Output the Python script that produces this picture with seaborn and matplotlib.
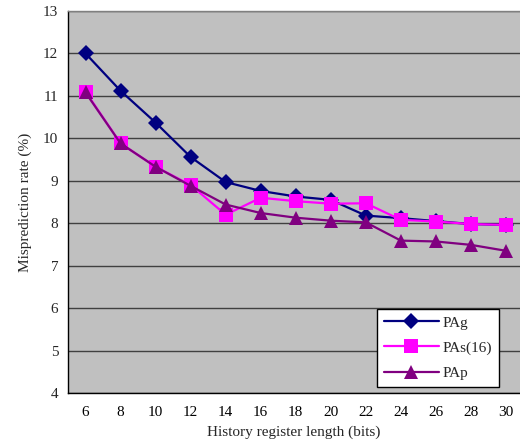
import matplotlib
matplotlib.use("Agg")
import matplotlib.pyplot as plt
import seaborn as sns
import pandas as pd
import numpy as np

history_bits = [6, 8, 10, 12, 14, 16, 18, 20, 22, 24, 26, 28, 30]
pag = [12.0, 11.12, 10.37, 9.56, 8.97, 8.76, 8.63, 8.55, 8.18, 8.12, 8.05, 7.98, 7.96]
pas16 = [11.1, 9.88, 9.33, 8.9, 8.2, 8.6, 8.52, 8.46, 8.47, 8.08, 8.04, 7.98, 7.96]
pap = [11.08, 9.88, 9.33, 8.88, 8.44, 8.24, 8.13, 8.06, 8.02, 7.59, 7.57, 7.49, 7.35]
series_names = ["PAg", "PAs(16)", "PAp"]

rows = []
for name, vals in zip(series_names, [pag, pas16, pap]):
    for i, v in enumerate(vals):
        rows.append({"pos": i, "bits": history_bits[i], "rate": v, "series": name})
df = pd.DataFrame(rows)

sns.set_theme(style="white")
plt.rcParams["font.family"] = ["Liberation Serif", "DejaVu Serif"]

FS = 11

fig = plt.figure(figsize=(5.2, 4.42), dpi=100)
ax = fig.add_axes([68/520, 1 - 393/442, 1 - 68/520, (393 - 11)/442])
ax.set_facecolor("#C0C0C0")

palette = {"PAg": "#000080", "PAs(16)": "#FF00FF", "PAp": "#800080"}
markers = {"PAg": "D", "PAs(16)": "s", "PAp": "^"}
sizes = {"PAg": 8, "PAs(16)": 10, "PAp": 10}

for name in series_names:
    sub = df[df["series"] == name]
    sns.lineplot(data=sub, x="pos", y="rate", ax=ax, color=palette[name],
                 marker=markers[name], markersize=sizes[name], markeredgewidth=0,
                 linewidth=1.6, label=name, zorder=3)

ax.set_ylim(4, 13)
ax.set_xlim(-0.5, 12.4)
ax.set_yticks(range(4, 14))
ax.yaxis.grid(True, color="#404040", linewidth=1.0)
ax.xaxis.grid(False)
ax.set_axisbelow(True)

ax.set_xticks(range(len(history_bits)))
ax.set_xticklabels([str(b) for b in history_bits])
ax.set_xticks(np.arange(0.5, len(history_bits) - 0.5, 1), minor=True)
ax.tick_params(axis="x", which="major", length=0, labelsize=FS, pad=9, colors="black")
ax.tick_params(axis="x", which="minor", length=4, width=1, direction="out", color="black")
ax.tick_params(axis="y", which="major", length=4, width=1, direction="out", labelsize=FS, color="black", pad=3)

for s in ["left", "bottom"]:
    ax.spines[s].set_color("black")
    ax.spines[s].set_linewidth(1.0)
ax.spines["top"].set_color("#808080")
ax.spines["top"].set_linewidth(1.0)
ax.spines["right"].set_visible(False)

ax.set_xlabel("History register length (bits)", fontsize=FS, labelpad=5)
ax.set_ylabel("Misprediction rate (%)", fontsize=FS, labelpad=8)

leg = ax.legend(loc="lower right", frameon=True, fancybox=False, edgecolor="black",
                facecolor="white", framealpha=1, fontsize=FS, handlelength=3.6,
                labelspacing=0.75, borderpad=0.45, handletextpad=0.25, borderaxespad=0)
leg.get_frame().set_linewidth(1.0)
leg.set_bbox_to_anchor((499/520, 1 - 387/442), transform=fig.transFigure)

fig.savefig("out.png", dpi=100)
